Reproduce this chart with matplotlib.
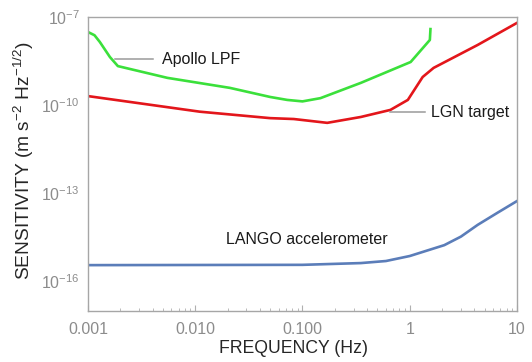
import matplotlib

matplotlib.use("Agg")
import matplotlib.pyplot as plt
import numpy as np
from matplotlib.ticker import FixedLocator, FixedFormatter, LogLocator, NullFormatter

plt.rcParams["font.family"] = ["Liberation Sans", "DejaVu Sans"]
plt.rcParams["mathtext.fontset"] = "custom"
plt.rcParams["mathtext.rm"] = "Liberation Sans"
plt.rcParams["mathtext.it"] = "Liberation Sans:italic"

# %% Data (frequency in Hz, log10 of sensitivity)
apollo_f = [0.001, 0.00115, 0.00129, 0.0016, 0.0019, 0.0055, 0.021, 0.05,
            0.072, 0.1, 0.147, 0.35, 1.02, 1.35, 1.54, 1.56]
apollo_log = [-7.51, -7.62, -7.85, -8.36, -8.67, -9.07, -9.41, -9.72,
              -9.82, -9.87, -9.76, -9.24, -8.53, -8.02, -7.78, -7.41]

lgn_f = [0.001, 0.011, 0.05, 0.083, 0.17, 0.35, 0.66, 0.96, 1.32, 1.67, 4.3, 10]
lgn_log = [-9.69, -10.22, -10.44, -10.47, -10.6, -10.4, -10.16, -9.82,
           -9.04, -8.73, -7.95, -7.2]

lango_f = [0.001, 0.1, 0.35, 0.6, 1.0, 2.1, 3.0, 4.3, 6.5, 10]
lango_log = [-15.44, -15.43, -15.37, -15.30, -15.13, -14.76, -14.47, -14.07,
             -13.67, -13.26]

xticks = [0.001, 0.01, 0.1, 1, 10]
xtick_labels = ["0.001", "0.010", "0.100", "1", "10"]
yticks = [1e-16, 1e-13, 1e-10, 1e-7]
ytick_labels = [r"$10^{-16}$", r"$10^{-13}$", r"$10^{-10}$", r"$10^{-7}$"]

GRAY = "#8c8c8c"
FS = 11.5

# %% Plot
fig = plt.figure(figsize=(5.32, 3.62), dpi=100)
ax = fig.add_axes([0.1654, 0.1409, 0.8064, 0.8121])

ax.plot(apollo_f, 10 ** np.array(apollo_log), color="#3be03b", linewidth=1.9)
ax.plot(lgn_f, 10 ** np.array(lgn_log), color="#e3161b", linewidth=1.9)
ax.plot(lango_f, 10 ** np.array(lango_log), color="#5b7db9", linewidth=1.9)

ax.set_xscale("log")
ax.set_yscale("log")
ax.set_xlim(0.001, 10)
ax.set_ylim(1e-17, 1e-7)

ax.xaxis.set_major_locator(FixedLocator(xticks))
ax.xaxis.set_major_formatter(FixedFormatter(xtick_labels))
ax.xaxis.set_minor_locator(LogLocator(base=10, subs=np.arange(2, 10)))
ax.xaxis.set_minor_formatter(NullFormatter())
ax.yaxis.set_major_locator(FixedLocator(yticks))
ax.yaxis.set_major_formatter(FixedFormatter(ytick_labels))
ax.yaxis.set_minor_locator(FixedLocator([]))

ax.tick_params(axis="x", which="major", direction="in", length=4, width=0.8,
               color="#b0b0b0", labelcolor=GRAY, labelsize=FS, pad=8)
ax.tick_params(axis="x", which="minor", direction="in", length=2, width=0.6,
               color="#b0b0b0")
ax.tick_params(axis="y", which="major", length=0, labelcolor=GRAY,
               labelsize=FS, pad=6)

for sp in ax.spines.values():
    sp.set_color("#a6a6a6")
    sp.set_linewidth(1.0)

ax.set_xlabel("FREQUENCY (Hz)", fontsize=12.7, color="#262626", va="center")
ax.xaxis.set_label_coords(0.478, -0.126)
ax.set_ylabel(r"SENSITIVITY (m s$^{-2}$ Hz$^{-1/2}$)", fontsize=13.8,
              color="#262626", va="center")
ax.yaxis.set_label_coords(-0.15, 0.51)

# annotations with short gray leader lines
trans = ax.transAxes
ax.plot([(115 - 88) / 429, (153 - 88) / 429], [(311 - 59) / 294] * 2,
        color="#9a9a9a", linewidth=1.1, transform=trans)
ax.text((162 - 88) / 429, (311 - 59) / 294, "Apollo LPF", transform=trans,
        fontsize=FS, va="center", ha="left", color="#1a1a1a")

ax.plot([(390 - 88) / 429, (425 - 88) / 429], [(311 - 112) / 294] * 2,
        color="#9a9a9a", linewidth=1.1, transform=trans)
ax.text((431 - 88) / 429, (311 - 112) / 294, "LGN target", transform=trans,
        fontsize=FS, va="center", ha="left", color="#1a1a1a")

ax.text((226 - 88) / 429, (311 - 240) / 294, "LANGO accelerometer", transform=trans,
        fontsize=FS, va="center", ha="left", color="#1a1a1a")

plt.savefig("out.png", dpi=100)
plt.close()
